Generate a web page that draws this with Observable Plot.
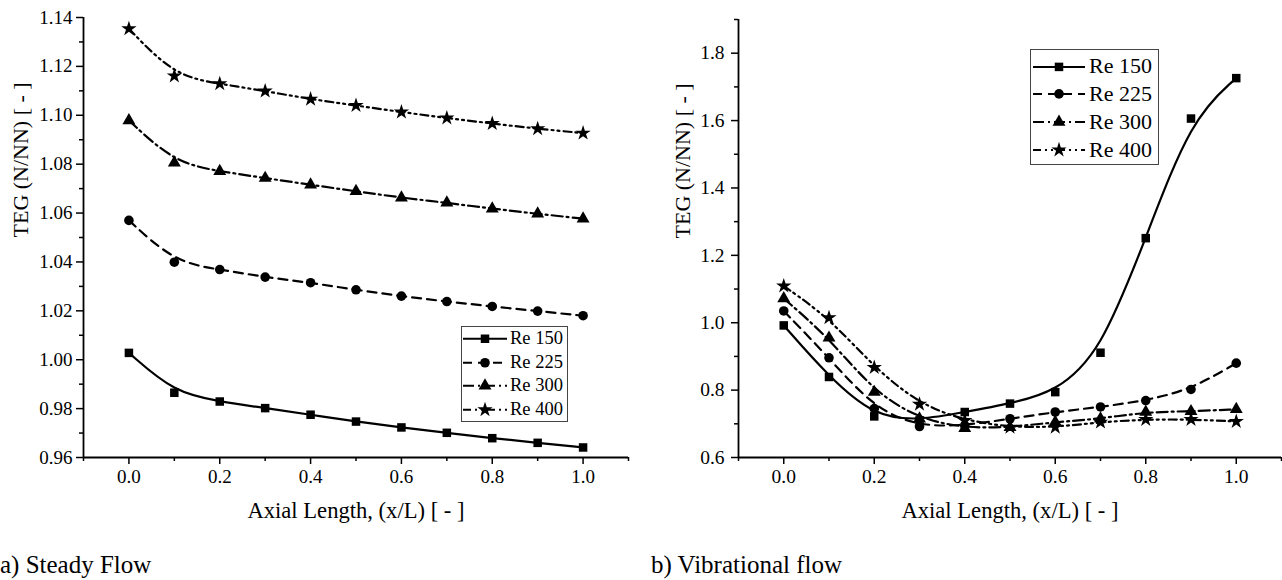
<!DOCTYPE html>
<html><head><meta charset="utf-8">
<script src="https://cdn.jsdelivr.net/npm/d3@7"></script>
<script src="https://cdn.jsdelivr.net/npm/@observablehq/plot@0.6"></script>
<style>
body{margin:0;background:#fff;font-family:"Liberation Serif","DejaVu Serif",serif;color:#000;}
#wrap{position:relative;width:1282px;height:580px;overflow:hidden;}
.panel{position:absolute;top:0;}
.caption{position:absolute;font-size:25px;line-height:26px;top:552px;white-space:nowrap;}
.legend{position:absolute;border:1px solid #444;background:#fff;box-sizing:border-box;}
.legend .row{display:flex;align-items:center;white-space:nowrap;}
.legend svg{display:block;flex:none;}
svg text{font-family:"Liberation Serif","DejaVu Serif",serif;}
</style></head><body>
<div id="wrap"></div>
<script>
// ---- data ----
const xs = [0.0, 0.1, 0.2, 0.3, 0.4, 0.5, 0.6, 0.7, 0.8, 0.9, 1.0];
const seriesNames = ["Re 150", "Re 225", "Re 300", "Re 400"];

const steady150 = [1.0028, 0.9865, 0.9829, 0.9802, 0.9775, 0.9747, 0.9723, 0.9701, 0.9679, 0.9660, 0.9641];
const steady225 = [1.0570, 1.0399, 1.0369, 1.0338, 1.0315, 1.0286, 1.0260, 1.0238, 1.0218, 1.0199, 1.0180];
const steady300 = [1.0979, 1.0806, 1.0771, 1.0743, 1.0716, 1.0689, 1.0663, 1.0642, 1.0618, 1.0597, 1.0577];
const steady400 = [1.1354, 1.1161, 1.1129, 1.1099, 1.1066, 1.1040, 1.1013, 1.0989, 1.0966, 1.0945, 1.0927];

const vib150 = [0.992, 0.839, 0.722, 0.710, 0.735, 0.760, 0.794, 0.911, 1.251, 1.606, 1.726];
const vib225 = [1.035, 0.896, 0.745, 0.692, 0.695, 0.715, 0.735, 0.750, 0.769, 0.802, 0.880];
const vib300 = [1.072, 0.955, 0.794, 0.715, 0.687, 0.690, 0.705, 0.715, 0.735, 0.737, 0.743];
const vib400 = [1.109, 1.015, 0.867, 0.758, 0.710, 0.690, 0.690, 0.705, 0.713, 0.713, 0.707];

const xMajorTicks = [0.0, 0.2, 0.4, 0.6, 0.8, 1.0];
const xMinorTicks = [-0.1, 0.1, 0.3, 0.5, 0.7, 0.9, 1.1];
const yLeftMajor = [0.96, 0.98, 1.00, 1.02, 1.04, 1.06, 1.08, 1.10, 1.12, 1.14];
const yLeftMinor = [0.97, 0.99, 1.01, 1.03, 1.05, 1.07, 1.09, 1.11, 1.13];
const yRightMajor = [0.6, 0.8, 1.0, 1.2, 1.4, 1.6, 1.8];
const yRightMinor = [0.7, 0.9, 1.1, 1.3, 1.5, 1.7, 1.9];

const yLabel = "TEG (N/NN) [ - ]";
const xLabel = "Axial Length, (x/L) [ - ]";
const captions = ["a) Steady Flow", "b) Vibrational flow"];

// ---- styles ----
const FONT = "'Liberation Serif', 'DejaVu Serif', serif";
const symbols = ["square", "circle", "triangle", "star"];
const d3Symbols = [d3.symbolSquare, d3.symbolCircle, d3.symbolTriangle, d3.symbolStar];
const dashes = ["none", "9,6", "11,4,2,4", "8,4,2,4,2,4"];
const R = 4.8;

function rows(arrays) {
  const out = [];
  arrays.forEach((arr, i) => arr.forEach((v, j) => out.push({series: seriesNames[i], x: xs[j], y: v})));
  return out;
}

function chart(arrays, opts) {
  const data = rows(arrays);
  const marks = [];
  seriesNames.forEach((s, i) => {
    marks.push(Plot.line(data.filter(d => d.series === s), {
      x: "x", y: "y", curve: "basis", stroke: "black", strokeWidth: 2.2,
      strokeDasharray: dashes[i]
    }));
  });
  marks.push(Plot.dot(data, {x: "x", y: "y", symbol: "series", fill: "black", stroke: "none", r: R}));
  marks.push(Plot.axisY({ticks: opts.yMajor, tickSize: 7, tickPadding: opts.tickPad, tickFormat: opts.yFmt,
    label: null, fontSize: opts.tickFont, strokeWidth: 1.5}));
  marks.push(Plot.axisY({ticks: opts.yMinor, tickSize: 4, text: null, label: null, strokeWidth: 1.5}));
  marks.push(Plot.axisX({ticks: xMajorTicks, tickSize: 7, tickPadding: 5, tickFormat: ".1f",
    label: null, fontSize: opts.tickFont, strokeWidth: 1.5}));
  marks.push(Plot.axisX({ticks: xMinorTicks, tickSize: 4, text: null, label: null, strokeWidth: 1.5}));
  marks.push(Plot.ruleX([-0.1], {stroke: "black", strokeWidth: 1.8}));
  marks.push(Plot.ruleY([opts.yDomain[0]], {stroke: "black", strokeWidth: 1.8}));
  marks.push(Plot.text([xLabel], {text: d => d, frameAnchor: "bottom", dy: 60, fontSize: 22.6}));
  marks.push(Plot.text([yLabel], {text: d => d, frameAnchor: "left", dx: opts.yLabelDx, rotate: -90, fontSize: 22}));
  return Plot.plot({
    width: 641, height: 540,
    marginLeft: opts.marginLeft, marginRight: opts.marginRight,
    marginTop: opts.marginTop, marginBottom: 83,
    style: {fontFamily: FONT, color: "black", background: "white", overflow: "visible"},
    x: {domain: [-0.1, 1.1]},
    y: {domain: opts.yDomain},
    symbol: {domain: seriesNames, range: symbols},
    marks
  });
}

function legend(parent, o) {
  const box = d3.select(parent).append("div").attr("class", "legend")
    .style("left", o.left + "px").style("top", o.top + "px")
    .style("width", o.width + "px").style("height", o.height + "px")
    .style("padding-top", o.padTop + "px");
  seriesNames.forEach((s, i) => {
    const row = box.append("div").attr("class", "row").style("height", o.rowH + "px");
    const svg = row.append("svg").attr("width", o.sampleX0 + o.sampleW + 2).attr("height", o.rowH);
    const cy = o.rowH / 2;
    svg.append("line").attr("x1", o.sampleX0).attr("x2", o.sampleX0 + o.sampleW)
      .attr("y1", cy).attr("y2", cy).attr("stroke", "black").attr("stroke-width", 2)
      .attr("stroke-dasharray", dashes[i] === "none" ? null : dashes[i]);
    svg.append("path").attr("d", d3.symbol(d3Symbols[i], R * R * Math.PI)())
      .attr("transform", `translate(${o.sampleX0 + o.sampleW / 2},${cy})`).attr("fill", "black");
    row.append("span").text(s).style("font-size", o.font + "px")
      .style("margin-left", o.textGap + "px");
  });
}

const wrap = document.getElementById("wrap");

const left = chart([steady150, steady225, steady300, steady400], {
  yDomain: [0.96, 1.14], yMajor: yLeftMajor, yMinor: yLeftMinor, yFmt: ".2f",
  marginLeft: 83, marginRight: 13, marginTop: 17, tickFont: 19, tickPad: 4, yLabelDx: -63
});
const right = chart([vib150, vib225, vib300, vib400], {
  yDomain: [0.6, 1.9], yMajor: yRightMajor, yMinor: yRightMinor, yFmt: ".1f",
  marginLeft: 97, marginRight: 1, marginTop: 19, tickFont: 19.5, tickPad: 7, yLabelDx: -56
});
const p1 = document.createElement("div"); p1.className = "panel"; p1.style.left = "0px"; p1.appendChild(left);
const p2 = document.createElement("div"); p2.className = "panel"; p2.style.left = "641px"; p2.appendChild(right);
wrap.appendChild(p1); wrap.appendChild(p2);

legend(wrap, {left: 461, top: 326, width: 107, height: 96, padTop: 0, rowH: 23.5,
  sampleX0: 1, sampleW: 44, textGap: 1, font: 18.5});
legend(wrap, {left: 1030, top: 49, width: 129, height: 116, padTop: 2.5, rowH: 27.8,
  sampleX0: 2, sampleW: 52, textGap: 2, font: 22});

captions.forEach((c, i) => {
  const d = document.createElement("div");
  d.className = "caption"; d.textContent = c;
  d.style.left = (i === 0 ? 0 : 651) + "px";
  wrap.appendChild(d);
});
</script>
</body></html>
